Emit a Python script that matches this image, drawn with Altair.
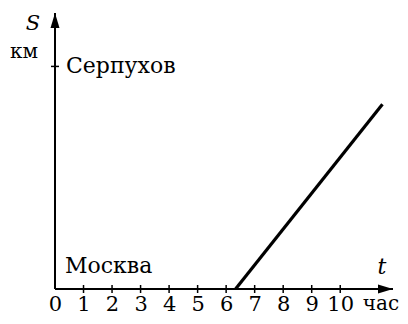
import altair as alt
import pandas as pd

# ---- data ----
hour_ticks = [0, 1, 2, 3, 4, 5, 6, 7, 8, 9, 10]
line_t = [6.33, 11.48]        # hours
line_s = [0, 83]              # km (Серпухов = 100)
serpukhov_s = 100
moscow_s = 0
t_max = 11.85                 # axis arrow tip
s_max = 124                   # axis arrow tip

SERIF = "DejaVu Serif"

xs = alt.Scale(domain=[0, t_max], nice=False, zero=False)
ys = alt.Scale(domain=[0, s_max], nice=False, zero=False)

X_AX = alt.Axis(
    values=hour_ticks, domain=False, ticks=False, grid=False, title=None,
    labelFont=SERIF, labelFontSize=21, labelColor="black", labelPadding=21,
    labelBaseline="alphabetic", labelFlush=False, labelOverlap=False,
)


def ex(field):
    return alt.X(field, type="quantitative", scale=xs, axis=X_AX)


def ey(field):
    return alt.Y(field, type="quantitative", scale=ys, axis=None)


x_axis = alt.Chart(pd.DataFrame({"t": [0], "t2": [t_max], "s": [0]})).mark_rule(
    color="black", strokeWidth=2
).encode(x=ex("t"), x2="t2:Q", y=ey("s"))

y_axis = alt.Chart(pd.DataFrame({"t": [0], "s": [0], "s2": [s_max]})).mark_rule(
    color="black", strokeWidth=2
).encode(x=ex("t"), y=ey("s"), y2="s2:Q")

tick_df = pd.DataFrame({"t": hour_ticks[1:]})
tick_df["lo"] = -1.8
tick_df["hi"] = 1.8
x_ticks = alt.Chart(tick_df).mark_rule(color="black", strokeWidth=1.5).encode(
    x=ex("t"), y=ey("lo"), y2="hi:Q"
)

serp_tick = alt.Chart(pd.DataFrame({"a": [-0.14], "b": [0.14], "s": [serpukhov_s]})).mark_rule(
    color="black", strokeWidth=1.5
).encode(x=ex("a"), x2="b:Q", y=ey("s"))

arrow_x = alt.Chart(pd.DataFrame({"t": [t_max], "s": [0]})).mark_point(
    shape="M0,0 L-2,-0.6 L-2,0.6 Z", size=225, filled=True, color="black", opacity=1
).encode(x=ex("t"), y=ey("s"))

arrow_y = alt.Chart(pd.DataFrame({"t": [0], "s": [s_max]})).mark_point(
    shape="M0,0 L-0.6,2 L0.6,2 Z", size=225, filled=True, color="black", opacity=1
).encode(x=ex("t"), y=ey("s"))

motion = alt.Chart(pd.DataFrame({"t": line_t, "s": line_s})).mark_line(
    color="black", strokeWidth=3.2
).encode(x=ex("t"), y=ey("s"))


def label(text, t, s, dx=0, dy=0, align="left", size=22, style="normal"):
    return alt.Chart(pd.DataFrame({"t": [t], "s": [s], "txt": [text]})).mark_text(
        font=SERIF, fontSize=size, fontStyle=style, color="black",
        align=align, baseline="alphabetic", dx=dx, dy=dy
    ).encode(x=ex("t"), y=ey("s"), text="txt:N")


texts = [
    label("Серпухов", 0, serpukhov_s, dx=11, dy=7),
    label("Москва", 0, moscow_s, dx=10, dy=-16),
    label("S", 0, s_max, dx=-22, dy=17, align="center", size=21, style="italic"),
    label("км", 0, s_max, dx=-31, dy=45, align="center", size=20),
    label("t", t_max, moscow_s, dx=-11, dy=-15, align="center", size=22, style="italic"),
    label("час", t_max, moscow_s, dx=-12, dy=21, align="center", size=20),
]

chart = alt.layer(
    x_axis, y_axis, x_ticks, serp_tick, motion, arrow_x, arrow_y, *texts
).properties(
    width=338, height=276,
    autosize=alt.AutoSizeParams(type="none"),
    padding={"left": 47, "top": 5, "right": 7, "bottom": 27},
    background="white",
).configure_view(stroke=None)

chart.save("out.html", embed_options={"renderer": "svg", "actions": False})
